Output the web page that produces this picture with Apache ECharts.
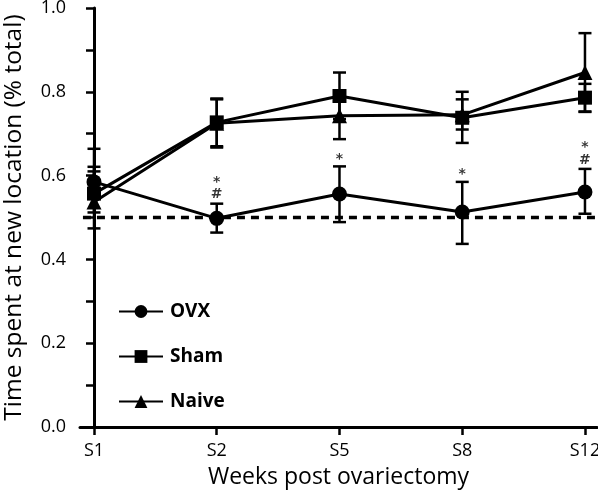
<!DOCTYPE html>
<html><head><meta charset="utf-8">
<script src="https://cdn.jsdelivr.net/npm/echarts@6/dist/echarts.min.js"></script>
<style>html,body{margin:0;padding:0;background:#fff}#c{width:598px;height:495px}</style>
</head><body><div id="c"></div>
<script>
const categories = ['S1','S2','S5','S8','S12'];
const ovx   = [0.585, 0.498, 0.556, 0.513, 0.561];
const sham  = [0.557, 0.727, 0.790, 0.738, 0.786];
const naive = [0.537, 0.725, 0.743, 0.745, 0.846];
const ovxLow   = [0.545, 0.464, 0.489, 0.437, 0.509];
const ovxHigh  = [0.621, 0.533, 0.622, 0.585, 0.616];
const shamLow  = [0.512, 0.670, 0.735, 0.678, 0.753];
const shamHigh = [0.610, 0.784, 0.846, 0.800, 0.819];
const naiveLow  = [0.474, 0.667, 0.687, 0.710, 0.752];
const naiveHigh = [0.664, 0.782, 0.800, 0.782, 0.940];
const chance = 0.5;
const annotations = [[1,0.583,'*'],[1,0.555,'#'],[2,0.638,'*'],[3,0.602,'*'],[4,0.667,'*'],[4,0.636,'#']];

const FONT = '"Open Sans", "Noto Sans", sans-serif';
function pts(v){ return v.map((y,i)=>[i,y]); }
function errData(lo,hi){ return lo.map((l,i)=>[i,l,hi[i]]); }
function errSeries(name, lo, hi){
  return {
    type:'custom', name: name + ' err', z: 1, silent:true,
    data: errData(lo,hi),
    encode:{x:0,y:[1,2]},
    renderItem(params, api){
      const x = api.value(0);
      const a = api.coord([x, api.value(1)]);
      const b = api.coord([x, api.value(2)]);
      const w = 6.5;
      const st = {stroke:'#000', lineWidth:2.5};
      return {type:'group', children:[
        {type:'line', shape:{x1:a[0],y1:a[1],x2:b[0],y2:b[1]}, style:st},
        {type:'line', shape:{x1:a[0]-w,y1:a[1],x2:a[0]+w,y2:a[1]}, style:st},
        {type:'line', shape:{x1:b[0]-w,y1:b[1],x2:b[0]+w,y2:b[1]}, style:st}
      ]};
    }
  };
}
function lineSeries(name, data, symbol, size){
  return {
    type:'line', name, data: pts(data), symbol, symbolSize:size, z:3,
    lineStyle:{color:'#000', width:3}, itemStyle:{color:'#000'},
    emphasis:{disabled:true}, animation:false
  };
}
const chart = echarts.init(document.getElementById('c'));
chart.setOption({
  animation:false,
  backgroundColor:'#fff',
  grid:{left:80, right:1, top:8, bottom:68, containLabel:false, outerBoundsMode:'none'},
  xAxis:{
    type:'value', min:-0.114, max:4.098,
    splitLine:{show:false},
    axisLine:{lineStyle:{color:'#000', width:3}},
    axisTick:{show:true, length:8, lineStyle:{color:'#000', width:2.5}, customValues:[0,1,2,3,4]},
    axisLabel:{customValues:[0,1,2,3,4], formatter:v=>categories[Math.round(v)], color:'#000', fontSize:18, fontFamily:FONT, margin:15},
    name:'Weeks post ovariectomy', nameLocation:'middle', nameGap:39,
    nameTextStyle:{color:'#000', fontSize:23, fontFamily:FONT}
  },
  yAxis:{
    type:'value', min:0, max:1, interval:0.2,
    splitLine:{show:false},
    axisLine:{show:true, lineStyle:{color:'#000', width:3}},
    axisTick:{show:true, length:8, lineStyle:{color:'#000', width:2.5}},
    minorTick:{show:true, splitNumber:2, length:8, lineStyle:{color:'#000', width:2.5}},
    axisLabel:{formatter:v=>v.toFixed(1), color:'#000', fontSize:18, fontFamily:FONT, margin:14},
    name:'Time spent at new location (% total)', nameLocation:'middle', nameGap:53,
    nameTextStyle:{color:'#000', fontSize:24.5, fontFamily:FONT}
  },
  legend:{
    orient:'vertical', left:113, top:297, itemWidth:44, itemHeight:16, itemGap:26,
    data:['OVX','Sham','Naive'],
    textStyle:{color:'#000', fontSize:19, fontWeight:'bold', fontFamily:FONT, padding:[0,0,0,2]},
    selectedMode:false
  },
  series:[
    errSeries('OVX', ovxLow, ovxHigh),
    errSeries('Sham', shamLow, shamHigh),
    errSeries('Naive', naiveLow, naiveHigh),
    lineSeries('OVX', ovx, 'circle', 15),
    lineSeries('Sham', sham, 'rect', 14),
    lineSeries('Naive', naive, 'triangle', 15),
    {
      type:'line', name:'chance', data:[[-0.09,chance],[4.098,chance]], symbol:'none', z:2,
      lineStyle:{color:'#000', width:3.5, type:[8,6]}, silent:true
    },
    {
      type:'scatter', name:'annot', symbolSize:0, z:4, silent:true,
      data: annotations.map(a=>({value:[a[0],a[1]], label:{formatter:a[2]}})),
      label:{show:true, position:'inside', color:'#000', fontSize:14, fontWeight:'bold', fontFamily:'"DejaVu Sans", sans-serif'}
    }
  ]
});
</script></body></html>
